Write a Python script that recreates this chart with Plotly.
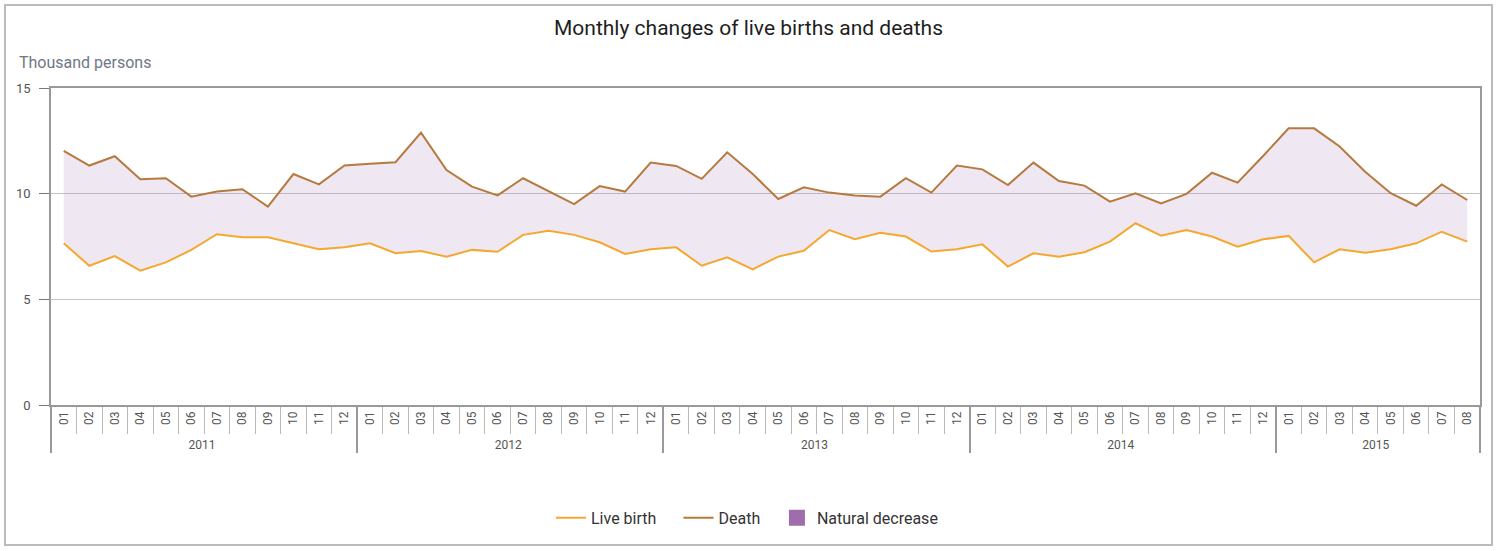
import plotly.graph_objects as go

# Monthly live births and deaths, thousand persons (2011-01 .. 2015-08)
years = ["2011", "2012", "2013", "2014", "2015"]
months_per_year = [12, 12, 12, 12, 8]

live_birth = [
    7.65, 6.59, 7.05, 6.36, 6.75, 7.34, 8.08, 7.94, 7.94, 7.65, 7.37, 7.46,
    7.65, 7.18, 7.29, 7.02, 7.34, 7.25, 8.05, 8.25, 8.05, 7.70, 7.15, 7.37,
    7.46, 6.59, 6.99, 6.42, 7.02, 7.30, 8.28, 7.84, 8.15, 7.97, 7.26, 7.37,
    7.60, 6.55, 7.18, 7.02, 7.23, 7.73, 8.60, 8.01, 8.28, 7.97, 7.49, 7.84,
    8.00, 6.75, 7.37, 7.21, 7.37, 7.65, 8.20, 7.73,
]
death = [
    12.03, 11.33, 11.77, 10.68, 10.73, 9.86, 10.10, 10.21, 9.39, 10.93, 10.44, 11.33,
    11.41, 11.49, 12.89, 11.12, 10.33, 9.92, 10.73, 10.13, 9.51, 10.36, 10.10, 11.47,
    11.31, 10.70, 11.96, 10.93, 9.75, 10.30, 10.05, 9.91, 9.86, 10.73, 10.05, 11.33,
    11.15, 10.41, 11.47, 10.60, 10.38, 9.62, 10.02, 9.54, 9.99, 10.99, 10.52, 11.78,
    13.09, 13.09, 12.23, 11.04, 10.02, 9.43, 10.44, 9.70,
]

year_labels = []
month_labels = []
for y, n in zip(years, months_per_year):
    for m in range(1, n + 1):
        year_labels.append(y)
        month_labels.append(f"{m:02d}")
x = [year_labels, month_labels]

BIRTH_COLOR = "#F5A82E"
DEATH_COLOR = "#B67A3E"
FILL_COLOR = "rgba(160, 110, 175, 0.17)"
LEGEND_FILL = "#A06CAB"

fig = go.Figure()

# shaded band between the two series
fig.add_trace(go.Scatter(x=x, y=live_birth, mode="lines", line=dict(width=0),
                         showlegend=False, hoverinfo="skip"))
fig.add_trace(go.Scatter(x=x, y=death, mode="lines", line=dict(width=0),
                         fill="tonexty", fillcolor=FILL_COLOR,
                         showlegend=False, hoverinfo="skip"))

fig.add_trace(go.Scatter(x=x, y=live_birth, mode="lines", name="Live birth",
                         line=dict(color=BIRTH_COLOR, width=2), legend="legend"))
fig.add_trace(go.Scatter(x=x, y=death, mode="lines", name="Death",
                         line=dict(color=DEATH_COLOR, width=2), legend="legend2"))
# legend-only entry for the band
fig.add_trace(go.Scatter(x=[[years[0]], [month_labels[0]]], y=[None], mode="markers",
                         name="Natural decrease", legend="legend3",
                         marker=dict(symbol="square", size=19, color=LEGEND_FILL)))

# one legend box per entry so the gaps can match the original
legend_style = dict(orientation="h", xanchor="left", y=-0.356, yanchor="middle",
                    font=dict(size=16, color="#333333"), bgcolor="rgba(0,0,0,0)")

# plot area in pixels: left 51, right 1480, top 88, bottom 405
fig.update_layout(
    width=1500, height=551,
    margin=dict(l=51, r=20, t=88, b=146),
    paper_bgcolor="white", plot_bgcolor="white",
    font=dict(family="Roboto, Arial, sans-serif", color="#555555", size=11),
    title=dict(text="Monthly changes of live births and deaths",
               x=0.499, xanchor="center", y=0.949, yanchor="middle",
               font=dict(size=21, color="#1E1E1E")),
    legend=dict(x=0.3499, **legend_style),
    legend2=dict(x=0.4391, **legend_style),
    legend3=dict(x=0.5080, **legend_style),
    showlegend=True,
)

fig.update_yaxes(
    range=[0, 15], dtick=5, showgrid=True, gridcolor="#C4C4C4", gridwidth=1,
    showline=True, linecolor="#999999", linewidth=1.5, mirror=True,
    ticks="outside", ticklen=10, tickcolor="#777777", ticklabelstandoff=6,
    tickfont=dict(size=13, color="#555555"), zeroline=False,
)
fig.update_xaxes(
    type="multicategory", range=[-0.5, len(month_labels) - 0.5], showgrid=False,
    showline=True, linecolor="#999999", linewidth=1.5, mirror=True,
    ticks="outside", tickson="boundaries", ticklen=27, tickcolor="#BBBBBB",
    tickangle=-90, tickfont=dict(size=12, color="#555555"),
    showdividers=True, dividercolor="#999999", dividerwidth=1.5,
)

fig.add_annotation(text="Thousand persons", xref="paper", yref="paper",
                   x=-0.0238, y=1.082, xanchor="left", yanchor="middle",
                   showarrow=False, font=dict(size=16, color="#6E7886"))

# outer frame of the chart panel
fig.add_shape(type="rect", xref="paper", yref="paper",
              x0=-0.0322, x1=1.0084, y0=-0.4416, y1=1.2618,
              line=dict(color="#BBBBBB", width=2), layer="below")

# drop the default page margin so the figure sits at the window origin
fig.write_html("out.html", config={"displayModeBar": False},
               post_script="document.body.style.margin='0';")
